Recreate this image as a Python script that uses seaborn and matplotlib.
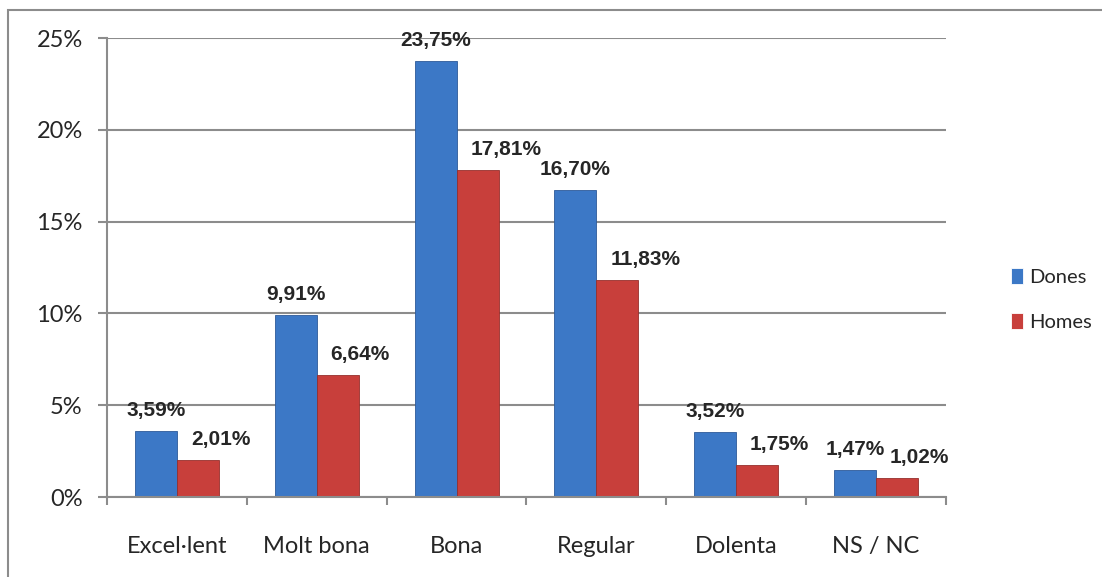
import pandas as pd
import matplotlib.pyplot as plt
import seaborn as sns
from matplotlib.patches import Rectangle
from matplotlib.ticker import FixedLocator

categories = ['Excel·lent', 'Molt bona', 'Bona', 'Regular', 'Dolenta', 'NS / NC']
dones = [3.59, 9.91, 23.75, 16.70, 3.52, 1.47]
homes = [2.01, 6.64, 17.81, 11.83, 1.75, 1.02]
series = ['Dones', 'Homes']
colors = ['#3C78C6', '#C83F3B']
y_ticks = [0, 5, 10, 15, 20, 25]

data = pd.DataFrame({
    'cat': categories * 2,
    'val': dones + homes,
    'serie': [series[0]] * len(dones) + [series[1]] * len(homes),
})

sns.set_style("white")
plt.rcParams['font.family'] = ['Lato', 'DejaVu Sans']

fig = plt.figure(figsize=(11.02, 5.77), dpi=100)
ax = fig.add_axes([0.0971, 0.1386, 0.7613, 0.7955])

sns.barplot(data=data, x='cat', y='val', hue='serie', order=categories,
            hue_order=series, palette=colors, saturation=1, width=0.6, gap=0,
            linewidth=0.6, ax=ax)
for cont, ec in zip(ax.containers, ['#2d5a99', '#962f2c']):
    for bar in cont:
        bar.set_edgecolor(ec)

# value labels (Excel style, comma decimal)
for i, cont in enumerate(ax.containers):
    for bar in cont:
        v = bar.get_height()
        txt = f'{v:.2f}'.replace('.', ',') + '%'
        if i == 0:
            xy, dx, ha = (bar.get_x() + bar.get_width() / 2, v), 0, 'center'
        else:
            xy, dx, ha = (bar.get_x(), v), 10, 'left'
        ax.annotate(txt, xy, xytext=(dx, 8), textcoords='offset points',
                    ha=ha, va='bottom', fontsize=15, fontweight='bold',
                    family=['Liberation Sans', 'DejaVu Sans'])

grey = '#8c8c8c'
ax.set_ylim(0, 25)
ax.set_xlim(-0.5, len(categories) - 0.5)
ax.set_yticks(y_ticks)
ax.set_yticklabels([f'{t}%' for t in y_ticks], fontsize=17)
ax.yaxis.grid(True, color=grey, linewidth=1.5)
ax.set_axisbelow(True)
for s in ['top', 'right']:
    ax.spines[s].set_visible(False)
for s in ['left', 'bottom']:
    ax.spines[s].set_color(grey)
    ax.spines[s].set_linewidth(1.5)
ax.tick_params(axis='y', length=6.5, width=1.5, color=grey, pad=11, left=True)
ax.tick_params(axis='x', which='major', length=0, pad=28, labelsize=17)
ax.xaxis.set_minor_locator(FixedLocator([i - 0.5 for i in range(len(categories) + 1)]))
ax.tick_params(axis='x', which='minor', length=6, width=1.5, color=grey, bottom=True)
ax.set_xlabel('')
ax.set_ylabel('')

ax.legend(loc='center left', bbox_to_anchor=(1.056, 0.43), frameon=False,
          fontsize=14.5, handlelength=0.6, handleheight=0.85, handletextpad=0.3,
          labelspacing=1.35)

# outer chart border (left and top visible)
fig.patches.append(Rectangle((8 / 1102, -0.1), 1.2, (577 - 10) / 577 + 0.1,
                             transform=fig.transFigure, fill=False,
                             edgecolor=grey, linewidth=1.5))

fig.savefig('out.png', dpi=100)
